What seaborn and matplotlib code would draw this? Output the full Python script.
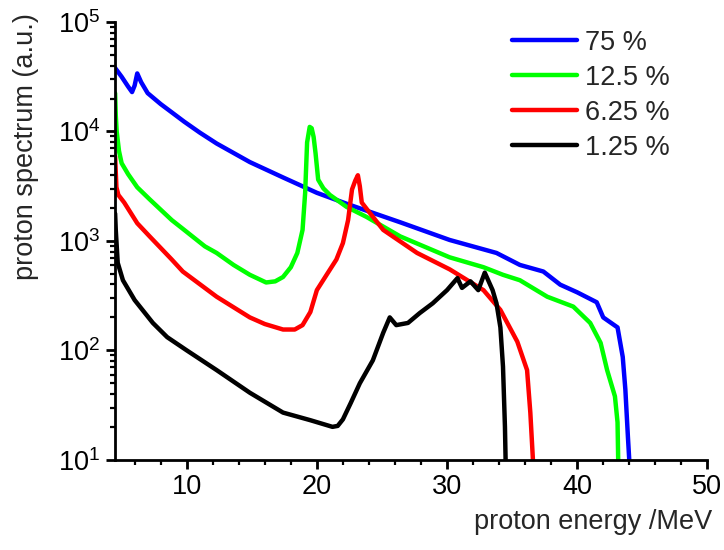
import matplotlib
matplotlib.use("Agg")
import matplotlib.pyplot as plt
import seaborn as sns
import pandas as pd
from matplotlib.ticker import MultipleLocator, LogLocator, NullFormatter

# ---- data ----
labels = ["75 %", "12.5 %", "6.25 %", "1.25 %"]
colors = ["#0000FF", "#00FF00", "#FF0000", "#000000"]

x_75 = [4.5, 5.0, 5.5, 5.8, 6.0, 6.2, 6.5, 7.0, 8.0, 8.9, 9.8, 11.0, 12.3, 14.85,
        17.4, 20.0, 22.5, 26.4, 30.2, 33.8, 35.6, 37.4, 38.7, 40.0, 41.5, 42.0,
        43.1, 43.5, 43.7, 43.9, 44.0]
y_75 = [38000, 31600, 25700, 22900, 26300, 33900, 28200, 22400, 17800, 14800, 12300,
        9770, 7760, 5250, 3800, 2750, 2140, 1480, 1020, 776, 603, 525, 398, 339, 275,
        200, 162, 87, 44, 16, 10]

x_125 = [4.5, 4.55, 4.62, 4.8, 5.0, 5.5, 6.2, 7.15, 8.85, 9.7, 11.4, 12.3, 13.6,
         14.85, 16.1, 16.8, 17.4, 18.0, 18.5, 18.9, 19.1, 19.25, 19.45, 19.6, 19.75,
         19.9, 20.1, 20.5, 21.0, 22.3, 23.8, 26.4, 30.2, 32.8, 34.3, 35.6, 37.7,
         39.7, 41.0, 41.8, 42.3, 42.9, 43.1, 43.15]
y_125 = [22400, 14100, 10000, 6610, 5130, 4070, 3090, 2400, 1550, 1290, 891, 776,
         603, 490, 417, 427, 468, 575, 776, 1260, 2750, 7940, 11000, 10700, 8910,
         6310, 3630, 3020, 2630, 2040, 1660, 1100, 708, 575, 490, 437, 309, 251,
         178, 117, 66, 38, 22, 10]

x_625 = [4.5, 4.6, 4.75, 5.2, 6.2, 7.15, 8.85, 9.7, 12.3, 14.85, 16.0, 17.4, 18.3,
         18.9, 19.5, 20.0, 20.8, 21.5, 22.0, 22.4, 22.7, 22.95, 23.15, 23.3, 23.45,
         23.9, 25.1, 27.7, 30.2, 32.8, 34.1, 35.4, 36.15, 36.4, 36.6]
y_625 = [5890, 3090, 2630, 2240, 1450, 1100, 676, 525, 309, 200, 174, 155, 155, 170,
         224, 355, 501, 676, 955, 1550, 2950, 3550, 3980, 3160, 2240, 1910, 1260,
         776, 550, 355, 234, 120, 66, 27, 10]

x_1 = [4.5, 4.55, 4.6, 4.7, 5.1, 6.0, 7.4, 8.5, 10.0, 12.3, 14.85, 17.4, 19.5, 21.2,
       21.6, 22.0, 22.6, 23.3, 24.3, 25.1, 25.6, 26.1, 27.0, 27.9, 28.9, 30.0, 30.8,
       31.15, 31.8, 32.4, 32.9, 33.5, 33.8, 34.1, 34.3, 34.45, 34.5]
y_1 = [1780, 1260, 1000, 631, 437, 288, 178, 132, 100, 66, 41, 27, 23, 20, 20.4,
       23.4, 33, 50, 81, 145, 200, 170, 178, 219, 269, 355, 457, 372, 427, 355, 513,
       355, 269, 162, 71, 20, 10]

xs = [x_75, x_125, x_625, x_1]
ys = [y_75, y_125, y_625, y_1]

frames = []
for lab, xx, yy in zip(labels, xs, ys):
    frames.append(pd.DataFrame({"energy": xx, "spectrum": yy, "series": lab}))
df = pd.concat(frames, ignore_index=True)

# ---- styling ----
sns.set_theme(style="ticks")
plt.rcParams["font.family"] = ["Liberation Sans", "DejaVu Sans"]
plt.rcParams["mathtext.fontset"] = "custom"
plt.rcParams["mathtext.rm"] = "Liberation Sans"
plt.rcParams["mathtext.it"] = "Liberation Sans"
plt.rcParams["mathtext.default"] = "regular"

FS = 19.5

fig = plt.figure(figsize=(7.24, 5.5), dpi=100)
ax = fig.add_axes([0.159, 0.164, 0.818, 0.796])

sns.lineplot(data=df, x="energy", y="spectrum", hue="series", hue_order=labels,
             palette=dict(zip(labels, colors)), estimator=None, sort=False,
             linewidth=3.2, ax=ax)

ax.set_yscale("log")
ax.set_xlim(4.5, 50)
ax.set_ylim(10, 1e5)

ax.xaxis.set_major_locator(MultipleLocator(10))
ax.xaxis.set_minor_locator(MultipleLocator(2))
ax.yaxis.set_major_locator(LogLocator(base=10, numticks=10))
ax.yaxis.set_minor_locator(LogLocator(base=10, subs=range(2, 10), numticks=100))
ax.yaxis.set_minor_formatter(NullFormatter())

for s in ["top", "right"]:
    ax.spines[s].set_visible(False)
for s in ["left", "bottom"]:
    ax.spines[s].set_linewidth(2)
    ax.spines[s].set_color("black")

ax.tick_params(axis="both", which="major", direction="out", length=6.5, width=2,
               labelsize=FS, pad=4, colors="black")
ax.tick_params(axis="both", which="minor", direction="out", length=3.5, width=1.6,
               colors="black")

ax.set_xlabel("proton energy /MeV", fontsize=FS, ha="right")
ax.xaxis.set_label_coords(1.009, -0.112)
ax.set_ylabel("proton spectrum (a.u.)", fontsize=FS)
ax.yaxis.set_label_coords(-0.128, 0.715)

ax.legend(loc="upper left", bbox_to_anchor=(0.67, 0.982), frameon=False,
          fontsize=FS, handlelength=2.4, handletextpad=0.3, labelspacing=0.33,
          borderpad=0, borderaxespad=0)
for ln in ax.get_legend().get_lines():
    ln.set_linewidth(3.2)

fig.savefig("out.png", dpi=100)
